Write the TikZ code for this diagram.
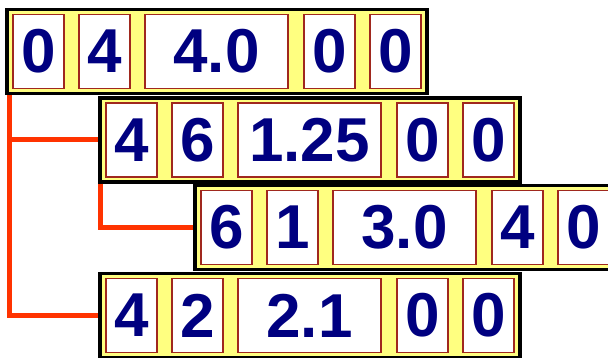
\documentclass[tikz,border=0pt]{standalone}
\usepackage{fontspec}
\setmainfont{Liberation Sans}
\usetikzlibrary{calc}
\definecolor{boxyellow}{RGB}{255,255,128}
\definecolor{cellred}{RGB}{160,40,30}
\definecolor{navytext}{RGB}{0,0,128}
\definecolor{connorange}{RGB}{255,51,0}
\definecolor{olive}{RGB}{170,160,60}
\tikzset{
  rowbox/.style={draw=black, line width=3.5pt, fill=boxyellow, minimum width=420pt, minimum height=84pt, inner sep=0pt,
     append after command={
       \pgfextra{\draw[olive, line width=1pt]
          ($(\tikzlastnode.south west)+(2.8,-2.8)$) rectangle ($(\tikzlastnode.north east)+(-2.8,2.8)$);}}},
  cell/.style={draw=cellred, line width=1.3pt, fill=white, minimum height=74pt, inner sep=0pt,
     text=navytext, font=\fontsize{62}{62}\selectfont\bfseries},
  nar/.style={cell, minimum width=51pt},
  wide/.style={cell, minimum width=143pt},
  conn/.style={draw=connorange, line width=5pt}
}
\begin{document}
\begin{tikzpicture}[x=1pt, y=-1pt]
\useasboundingbox[fill=white] (0,0) rectangle (608,358);
% row boxes
\node[rowbox] (r1) at (217,51.5) {};
\node[rowbox] (r2) at (310,140) {};
\node[rowbox] (r3) at (405,227.5) {};
\node[rowbox] (r4) at (310,315.5) {};
% row 1
\node[nar]  (r1c1) at (38.5,51.5) {0};
\node[nar]  (r1c2) at (104.5,51.5) {4};
\node[wide] (r1c3) at (216.5,51.5) {4.0};
\node[nar]  (r1c4) at (329.5,51.5) {0};
\node[nar]  (r1c5) at (395.5,51.5) {0};
% row 2
\node[nar]  (r2c1) at (131.5,140) {4};
\node[nar]  (r2c2) at (197.5,140) {6};
\node[wide] (r2c3) at (309.5,140) {1.25};
\node[nar]  (r2c4) at (422.5,140) {0};
\node[nar]  (r2c5) at (488.5,140) {0};
% row 3
\node[nar]  (r3c1) at (226.5,227.5) {6};
\node[nar]  (r3c2) at (292.5,227.5) {1};
\node[wide] (r3c3) at (404.5,227.5) {3.0};
\node[nar]  (r3c4) at (517.5,227.5) {4};
\node[nar]  (r3c5) at (583.5,227.5) {0};
% row 4
\node[nar]  (r4c1) at (131.5,315.5) {4};
\node[nar]  (r4c2) at (197.5,315.5) {2};
\node[wide] (r4c3) at (309.5,315.5) {2.1};
\node[nar]  (r4c4) at (422.5,315.5) {0};
\node[nar]  (r4c5) at (488.5,315.5) {0};
% connectors
\coordinate (t1) at ($(r1.south west)+(4,0)$);
\coordinate (t2) at ($(r2.south west)+(2,0)$);
\draw[conn] (t1) |- (r4.west);
\draw[conn] (t1 |- r2.west) -- (r2.west);
\draw[conn] (t2) |- (r3.west);
\end{tikzpicture}
\end{document}
